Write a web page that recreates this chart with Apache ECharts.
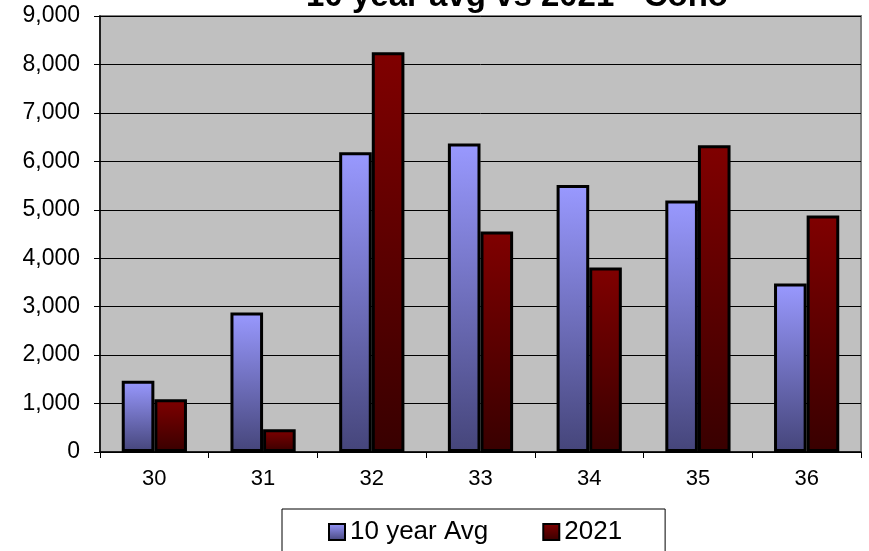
<!DOCTYPE html>
<html>
<head>
<meta charset="utf-8">
<script src="https://cdn.jsdelivr.net/npm/echarts@6/dist/echarts.min.js"></script>
<style>html,body{margin:0;padding:0;background:#fff;}#c{width:869px;height:551px;}</style>
</head>
<body>
<div id="c"></div>
<script>
const titleText = '10 year avg vs 2021 - Coho';
const categories = ['30', '31', '32', '33', '34', '35', '36'];
const seriesNames = ['10 year Avg', '2021'];
const avg10 = [1470, 2880, 6190, 6370, 5510, 5190, 3480];
const y2021 = [1090, 470, 8250, 4550, 3810, 6330, 4880];
const yTicks = [0, 1000, 2000, 3000, 4000, 5000, 6000, 7000, 8000, 9000];

const FONT = '"Liberation Sans", Arial, sans-serif';
const chart = echarts.init(document.getElementById('c'), null, {renderer: 'canvas'});

function grad(top, bottom) {
  return new echarts.graphic.LinearGradient(0, 0, 0, 1, [
    {offset: 0, color: top}, {offset: 1, color: bottom}
  ]);
}

chart.setOption({
  animation: false,
  backgroundColor: '#ffffff',
  title: {
    text: titleText,
    left: 512,
    textAlign: 'center',
    top: -25,
    textStyle: {fontFamily: FONT, fontWeight: 'bold', fontSize: 33, color: '#000'}
  },
  grid: {
    left: 100, right: 8, top: 16, bottom: 99,
    show: true, backgroundColor: '#C0C0C0', borderColor: '#808080', borderWidth: 2,
    containLabel: false
  },
  legend: {
    data: seriesNames,
    left: 282, top: 509,
    padding: [10, 43, 20, 46],
    itemGap: 54,
    itemWidth: 16, itemHeight: 16,
    icon: 'rect',
    backgroundColor: '#ffffff',
    borderColor: '#000000', borderWidth: 1,
    borderRadius: 0,
    textStyle: {fontFamily: FONT, fontSize: 26, color: '#000'}
  },
  xAxis: {
    type: 'category',
    data: categories,
    axisLine: {show: true, lineStyle: {color: '#000', width: 1.5}},
    axisTick: {show: true, length: 6, inside: false, lineStyle: {color: '#000'}},
    axisLabel: {fontFamily: FONT, fontSize: 22, color: '#000', margin: 16},
    splitLine: {show: false}
  },
  yAxis: {
    type: 'value',
    min: yTicks[0], max: yTicks[yTicks.length - 1], interval: 1000,
    axisLine: {show: true, lineStyle: {color: '#000', width: 1.5}},
    axisTick: {show: true, length: 6, lineStyle: {color: '#000'}},
    axisLabel: {
      fontFamily: FONT, fontSize: 23, color: '#000', margin: 20,
      formatter: v => v.toLocaleString('en-US')
    },
    splitLine: {show: true, lineStyle: {color: '#000', width: 1}}
  },
  series: [
    {
      name: seriesNames[0], type: 'bar', data: avg10,
      barGap: '0%', barCategoryGap: '40%',
      itemStyle: {color: grad('#9999FF', '#45457A'), borderColor: '#000', borderWidth: 3}
    },
    {
      name: seriesNames[1], type: 'bar', data: y2021,
      barGap: '0%', barCategoryGap: '40%',
      itemStyle: {color: grad('#800000', '#380000'), borderColor: '#000', borderWidth: 3}
    }
  ]
});
</script>
</body>
</html>
